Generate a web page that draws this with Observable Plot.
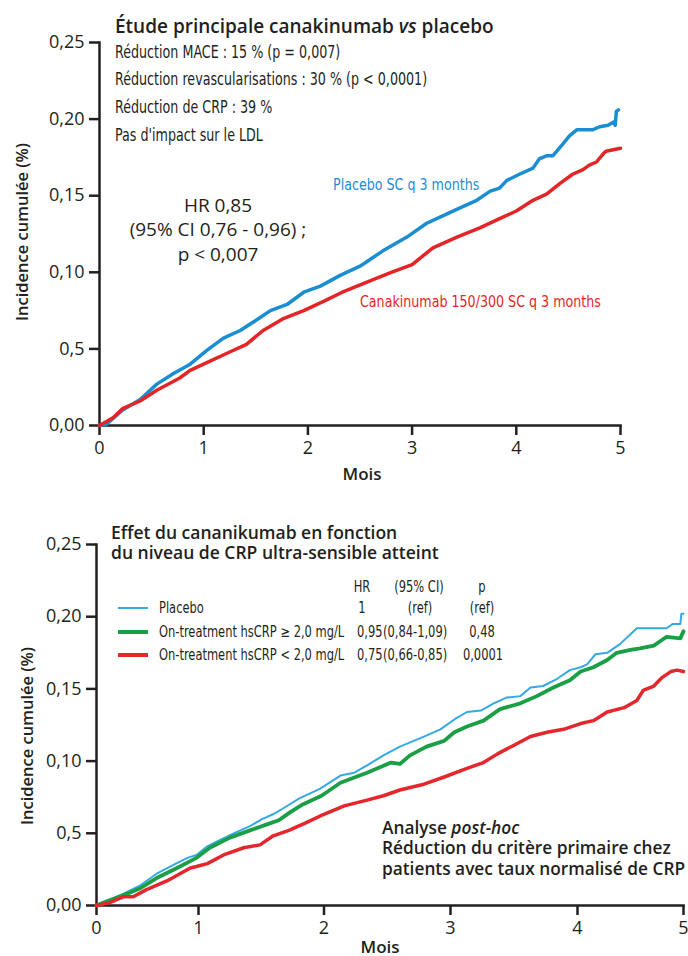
<!DOCTYPE html>
<html><head><meta charset="utf-8">
<script src="https://cdn.jsdelivr.net/npm/d3@7"></script>
<script src="https://cdn.jsdelivr.net/npm/@observablehq/plot@0.6"></script>
<style>
body{margin:0;background:#fff;}
#wrap{position:relative;width:688px;height:956px;overflow:hidden;font-family:"Open Sans",sans-serif;color:#231f20;background:#fff;}
#wrap svg{position:absolute;left:0;}
.t{position:absolute;white-space:nowrap;transform:translateY(-50%);line-height:1;}
.c{transform:translate(-50%,-50%);text-align:center;}
.n{font-family:"Liberation Sans Narrow","DejaVu Sans Condensed","Roboto Condensed",Roboto,sans-serif;transform:translateY(-50%) scaleX(0.88);transform-origin:0 50%;}
.n.c{transform:translate(-50%,-50%) scaleX(0.88);transform-origin:50% 50%;}
.n.s{transform:translateY(-50%) scaleX(0.83);}
.n.lg{font-size:15px;transform:translateY(-50%) scaleX(0.85);}
.n.lg.c{transform:translate(-50%,-50%) scaleX(0.85);}
.b{font-weight:600;}
.yl{position:absolute;white-space:nowrap;transform:translate(-50%,-50%) rotate(-90deg);font-weight:600;font-size:16.5px;line-height:1;}
.sw{position:absolute;height:0;}
</style>
</head><body>
<div id="wrap">
  <div id="topChart"></div>
  <div id="botChart"></div>

  <div class="t b" style="left:115px;top:26px;font-size:19px;">Étude principale canakinumab <i>vs</i> placebo</div>
  <div class="t n s" style="left:115px;top:52px;font-size:17px;">Réduction MACE : 15 % (p = 0,007)</div>
  <div class="t n s" style="left:115px;top:79px;font-size:17px;">Réduction revascularisations : 30 % (p &lt; 0,0001)</div>
  <div class="t n s" style="left:115px;top:107px;font-size:17px;">Réduction de CRP : 39 %</div>
  <div class="t n s" style="left:115px;top:135px;font-size:17px;">Pas d'impact sur le LDL</div>
  <div class="t c" style="left:218px;top:205px;font-size:19px;">HR 0,85</div>
  <div class="t c" style="left:218px;top:229px;font-size:19px;">(95% CI 0,76 - 0,96) ;</div>
  <div class="t c" style="left:218px;top:254px;font-size:19px;">p &lt; 0,007</div>
  <div class="t n" style="left:333px;top:185px;font-size:16px;color:#1b8dd2;">Placebo SC q 3 months</div>
  <div class="t n" style="left:360px;top:302px;font-size:16px;color:#e42527;">Canakinumab 150/300 SC q 3 months</div>
  <div class="t c b" style="left:362px;top:473px;font-size:17px;">Mois</div>
  <div class="yl" style="left:22px;top:232px;">Incidence cumulée (%)</div>

  <div class="t b" style="left:111px;top:533px;font-size:17.5px;">Effet du cananikumab en fonction</div>
  <div class="t b" style="left:111px;top:553px;font-size:17.5px;">du niveau de CRP ultra-sensible atteint</div>
  <div class="t n lg c" style="left:362px;top:587px;">HR</div>
  <div class="t n lg c" style="left:419px;top:587px;">(95% CI)</div>
  <div class="t n lg c" style="left:482px;top:587px;">p</div>
  <div class="sw" style="left:118px;top:607px;width:30px;border-top:2px solid #35a9e1;"></div>
  <div class="sw" style="left:118px;top:630px;width:30px;border-top:4px solid #1a9f47;"></div>
  <div class="sw" style="left:118px;top:653px;width:30px;border-top:4px solid #e4272c;"></div>
  <div class="t n lg" style="left:159px;top:608px;">Placebo</div>
  <div class="t n lg c" style="left:362px;top:608px;">1</div>
  <div class="t n lg c" style="left:420px;top:608px;">(ref)</div>
  <div class="t n lg c" style="left:482px;top:608px;">(ref)</div>
  <div class="t n lg" style="left:159px;top:632px;">On-treatment hsCRP ≥ 2,0 mg/L</div>
  <div class="t n lg" style="left:357px;top:632px;">0,95</div>
  <div class="t n lg" style="left:383px;top:632px;">(0,84-1,09)</div>
  <div class="t n lg c" style="left:482px;top:632px;">0,48</div>
  <div class="t n lg" style="left:159px;top:655px;">On-treatment hsCRP &lt; 2,0 mg/L</div>
  <div class="t n lg" style="left:357px;top:655px;">0,75</div>
  <div class="t n lg" style="left:383px;top:655px;">(0,66-0,85)</div>
  <div class="t n lg c" style="left:483px;top:655px;">0,0001</div>
  <div class="t b" style="left:382px;top:828px;font-size:17.3px;">Analyse <i>post-hoc</i></div>
  <div class="t b" style="left:382px;top:848px;font-size:17.3px;">Réduction du critère primaire chez</div>
  <div class="t b" style="left:382px;top:869px;font-size:17.3px;">patients avec taux normalisé de CRP</div>
  <div class="t c b" style="left:380px;top:946px;font-size:17px;">Mois</div>
  <div class="yl" style="left:27px;top:736px;">Incidence cumulée (%)</div>
</div>
<script>
// ---- data ----
const monthTicks = [0, 1, 2, 3, 4, 5];
const yTicks = [0, 0.05, 0.10, 0.15, 0.20, 0.25];
const yTickLabels = ["0,00", "0,5", "0,10", "0,15", "0,20", "0,25"];

// Top panel: placebo
const topPlaceboT = [0,0.07,0.22,0.39,0.55,0.71,0.87,1.03,1.19,1.35,1.51,1.64,1.80,1.96,2.12,2.31,2.50,2.72,2.95,3.14,3.33,3.46,3.62,3.75,3.84,3.91,4.03,4.16,4.22,4.29,4.35,4.45,4.51,4.58,4.67,4.73,4.80,4.88,4.93,4.95,4.96,4.98];
const topPlaceboV = [0,0.001,0.010,0.017,0.027,0.034,0.040,0.049,0.057,0.062,0.069,0.075,0.079,0.087,0.091,0.098,0.104,0.114,0.123,0.132,0.138,0.142,0.147,0.153,0.155,0.160,0.164,0.168,0.174,0.176,0.176,0.184,0.189,0.193,0.193,0.193,0.195,0.196,0.198,0.196,0.205,0.206];
// Top panel: canakinumab
const topCanaT = [0,0.13,0.22,0.39,0.55,0.77,0.87,1.03,1.25,1.41,1.57,1.77,1.96,2.15,2.33,2.62,2.80,3.00,3.20,3.43,3.65,3.84,4.00,4.16,4.29,4.42,4.54,4.64,4.70,4.77,4.83,4.86,4.93,5.00];
const topCanaV = [0,0.005,0.011,0.016,0.023,0.031,0.036,0.041,0.048,0.053,0.062,0.070,0.075,0.081,0.087,0.095,0.100,0.105,0.116,0.123,0.129,0.135,0.140,0.147,0.151,0.158,0.164,0.167,0.170,0.172,0.177,0.179,0.180,0.181];

// Bottom panel: placebo
const botPlaceboT = [0,0.07,0.26,0.43,0.59,0.75,0.89,0.98,1.07,1.14,1.28,1.41,1.51,1.59,1.67,1.80,1.97,2.13,2.24,2.34,2.47,2.60,2.79,2.92,3.05,3.13,3.24,3.34,3.44,3.55,3.63,3.73,3.84,3.94,4.03,4.09,4.17,4.28,4.40,4.56,4.84,4.90,4.97,4.98,5.00];
const botPlaceboV = [0,0.002,0.008,0.014,0.022,0.028,0.033,0.035,0.041,0.044,0.050,0.055,0.060,0.063,0.067,0.074,0.081,0.090,0.092,0.097,0.104,0.110,0.117,0.122,0.130,0.134,0.135,0.140,0.144,0.145,0.151,0.152,0.157,0.163,0.165,0.167,0.174,0.175,0.181,0.192,0.192,0.195,0.195,0.202,0.202];
// Bottom panel: hsCRP >= 2.0
const botHighT = [0,0.07,0.26,0.43,0.59,0.79,0.98,1.09,1.25,1.41,1.54,1.64,1.72,1.83,1.98,2.13,2.34,2.53,2.60,2.68,2.81,2.95,3.03,3.13,3.26,3.39,3.55,3.68,3.81,3.94,4.03,4.15,4.28,4.37,4.50,4.59,4.72,4.80,4.84,4.97,5.00];
const botHighV = [0,0.002,0.007,0.012,0.019,0.026,0.033,0.040,0.047,0.052,0.056,0.059,0.064,0.070,0.076,0.085,0.092,0.099,0.098,0.104,0.110,0.114,0.120,0.124,0.128,0.136,0.140,0.145,0.151,0.156,0.162,0.165,0.170,0.175,0.177,0.178,0.180,0.184,0.186,0.185,0.190];
// Bottom panel: hsCRP < 2.0
const botLowT = [0,0.13,0.26,0.36,0.49,0.69,0.92,0.98,1.07,1.20,1.36,1.49,1.59,1.72,1.85,1.97,2.16,2.34,2.47,2.60,2.79,2.95,3.13,3.26,3.37,3.50,3.63,3.76,3.89,4.03,4.15,4.28,4.44,4.56,4.62,4.72,4.80,4.88,4.94,5.00];
const botLowV = [0,0.002,0.006,0.006,0.011,0.017,0.026,0.027,0.029,0.035,0.040,0.042,0.048,0.052,0.057,0.062,0.069,0.073,0.076,0.080,0.084,0.089,0.095,0.099,0.105,0.111,0.117,0.120,0.122,0.126,0.128,0.134,0.137,0.142,0.149,0.152,0.158,0.162,0.163,0.162];

const toRows = (T, V) => T.map((t, i) => ({t, v: V[i]}));

function axes(fs) {
  return [
    Plot.axisY({ticks: yTicks, tickFormat: (d) => yTickLabels[yTicks.indexOf(d)], tickSize: 10, tickPadding: 5, strokeWidth: 2.5, fontSize: fs, label: null}),
    Plot.axisX({ticks: monthTicks, tickFormat: (d) => String(d), tickSize: 10, tickPadding: 6, strokeWidth: 2.5, fontSize: fs, label: null}),
    Plot.frame({anchor: "left", strokeWidth: 2.5}),
    Plot.frame({anchor: "bottom", strokeWidth: 2.5})
  ];
}

const topPlot = Plot.plot({
  width: 688, height: 490,
  marginLeft: 99, marginRight: 68, marginTop: 42, marginBottom: 65,
  style: {fontFamily: "Open Sans, sans-serif", color: "#231f20", background: "transparent", overflow: "visible"},
  x: {domain: [0, 5]},
  y: {domain: [0, 0.25]},
  marks: [
    ...axes(18),
    Plot.line(toRows(topPlaceboT, topPlaceboV), {x: "t", y: "v", stroke: "#1b8dd2", strokeWidth: 3.5}),
    Plot.line(toRows(topCanaT, topCanaV), {x: "t", y: "v", stroke: "#e42527", strokeWidth: 3.5})
  ]
});
topPlot.style.top = "0px";
document.getElementById("topChart").append(topPlot);

const botPlot = Plot.plot({
  width: 688, height: 466,
  marginLeft: 96, marginRight: 5, marginTop: 54, marginBottom: 51,
  style: {fontFamily: "Open Sans, sans-serif", color: "#231f20", background: "transparent", overflow: "visible"},
  x: {type: "linear", domain: monthTicks, range: [96, 198, 323.5, 450, 577, 683]},
  y: {domain: [0, 0.25]},
  marks: [
    ...axes(18),
    Plot.line(toRows(botPlaceboT, botPlaceboV), {x: "t", y: "v", stroke: "#35a9e1", strokeWidth: 2}),
    Plot.line(toRows(botHighT, botHighV), {x: "t", y: "v", stroke: "#1a9f47", strokeWidth: 3.8}),
    Plot.line(toRows(botLowT, botLowV), {x: "t", y: "v", stroke: "#e4272c", strokeWidth: 3.5})
  ]
});
botPlot.style.top = "490px";
document.getElementById("botChart").append(botPlot);
</script>
</body></html>
